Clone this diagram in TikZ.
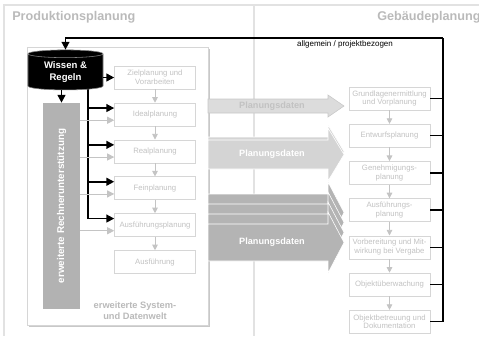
\documentclass[tikz,border=0pt]{standalone}
\usepackage{fontspec}
\setmainfont{Liberation Sans}
\usepackage{tikz}
\usetikzlibrary{arrows.meta,shapes.geometric}
\definecolor{framegray}{HTML}{E2E2E2}
\definecolor{boxgray}{HTML}{D6D6D6}
\definecolor{txtgray}{HTML}{C2C2C2}
\definecolor{titlegray}{HTML}{BABABA}
\definecolor{rechnergray}{HTML}{B2B2B2}
\definecolor{flowgray}{HTML}{C4C4C4}
\definecolor{pdlight}{HTML}{DCDCDC}
\definecolor{pdline}{HTML}{C8C8C8}
\definecolor{pdmid}{HTML}{D4D4D4}
\definecolor{pddark}{HTML}{B4B4B4}

\begin{document}
\begin{tikzpicture}[x=0.025cm, y=-0.025cm,
  phase/.style={draw=boxgray, fill=white, text=txtgray, align=center,
    minimum width=2.025cm, minimum height=0.575cm, inner sep=0.5pt,
    font=\fontsize{5.5}{6.2}\selectfont},
  headline/.style={anchor=west, text=titlegray, inner sep=0pt,
    font=\fontsize{9}{10}\selectfont\bfseries},
  blk/.style={line width=1.1pt, black},
  blkarrow/.style={blk, -{Triangle[length=5.5pt,width=5.5pt]}},
  flow/.style={flowgray, line width=0.6pt, -{Triangle[length=4pt,width=4pt]}},
  pdtext/.style={font=\fontsize{6.5}{7}\selectfont\bfseries, text=white}]
  \useasboundingbox (0,0) rectangle (479,336);

  % frame
  \draw[framegray, line width=1.2pt] (4,336) -- (4,5) -- (479,5);
  \draw[framegray, line width=1.2pt] (254,5) -- (254,336);
  \node[headline] (prod) at (12,17) {Produktionsplanung};
  \node[headline] (geb) at (377,17) {Gebäudeplanung};

  % system- und datenwelt
  \fill[pdline] (29,49) rectangle (210,327);
  \filldraw[fill=white, draw=boxgray] (27,47) rectangle (208,325);
  \node[text=titlegray, align=center, font=\fontsize{6.6}{7.8}\selectfont\bfseries] (welt) at (135,311) {erweiterte System-\\und Datenwelt};

  % produktionsplanung
  \node[phase] (ziel) at (155,77.5) {Zielplanung und\\Vorarbeiten};
  \node[phase] (ideal) at (155,114.5) {Idealplanung};
  \node[phase] (real) at (155,151.3) {Realplanung};
  \node[phase] (fein) at (155,188.2) {Feinplanung};
  \node[phase] (ausfp) at (155,225) {Ausführungsplanung};
  \node[phase] (ausf) at (155,262) {Ausführung};
  \foreach \a/\b in {ziel/ideal,ideal/real,real/fein,fein/ausfp,ausfp/ausf}
    \draw[flow] (\a) -- (\b);

  % gebaeudeplanung
  \node[phase] (grund) at (389.5,98.5) {Grundlagenermittlung\\und Vorplanung};
  \node[phase] (entw) at (389.5,135.7) {Entwurfsplanung};
  \node[phase] (gen) at (389.5,172.9) {Genehmigungs-\\planung};
  \node[phase] (ausfr) at (389.5,210.1) {Ausführungs-\\planung};
  \node[phase] (vorb) at (389.5,247.3) {Vorbereitung und Mit-\\wirkung bei Vergabe};
  \node[phase] (objue) at (389.5,284.5) {Objektüberwachung};
  \node[phase] (objb) at (389.5,321.7) {Objektbetreuung und\\Dokumentation};
  \foreach \a/\b in {grund/entw,entw/gen,gen/ausfr,ausfr/vorb,vorb/objue,objue/objb}
    \draw[flow] (\a) -- (\b);

  % planungsdaten
  \filldraw[fill=pdlight, draw=pdline] (208,99) -- (328,99) -- (328,95) -- (344,106)
    -- (328,117) -- (328,113) -- (208,113) -- cycle;
  \node[pdtext, text=txtgray] (pd1) at (272,106) {Planungsdaten};
  \foreach \s in {-3,0}
    \filldraw[fill=pdmid, draw=white, shift={(0,\s)}] (208,140) -- (328,140) -- (328,128)
      -- (344,154.5) -- (328,181) -- (328,169) -- (208,169) -- cycle;
  \node[pdtext] (pd2) at (272,154.5) {Planungsdaten};
  \foreach \s in {-30,-20,-10,0}
    \filldraw[fill=pddark, draw=white, shift={(0,\s)}] (208,224) -- (328,224) -- (328,212)
      -- (344,242.5) -- (328,273) -- (328,261) -- (208,261) -- cycle;
  \node[pdtext] (pd3) at (272,242.5) {Planungsdaten};

  % wissen und rechnerunterstuetzung
  \coordinate (spine) at (88,88);
  \coordinate (bustop) at (443,38);
  \draw[blk] (spine) -- (spine |- ausfp.171);
  \foreach \n in {ideal,real,fein,ausfp}
    \draw[blkarrow] (spine |- \n.171) -- (\n.171);
  \node[cylinder, shape border rotate=90, aspect=0.18, minimum width=1.875cm,
    minimum height=1cm, fill=black, draw=gray, text=white, align=center, inner sep=0pt,
    font=\fontsize{6.8}{8.5}\selectfont\bfseries] (db) at (65.5,72) {Wissen \&\\Regeln};
  \draw[blkarrow] (db.east |- ziel.west) -- (ziel.west);
  \node[rotate=90, fill=rechnergray, text=white, minimum width=5.15cm, minimum height=0.925cm,
    font=\fontsize{7}{8}\selectfont\bfseries] (rechner) at (61.5,206) {erweiterte Rechnerunterstützung};
  \draw[blkarrow] (rechner.east |- db.south) -- (rechner.east);
  \foreach \n in {ideal,real,fein,ausfp}
    \draw[flow, -{Triangle[length=5pt,width=5pt]}] (rechner.south |- \n.188) -- (\n.188);

  % rueckkopplung
  \draw[blkarrow] (bustop) -| (db.north);
  \draw[blk] (bustop) -- (bustop |- objb.east);
  \foreach \n in {grund,entw,gen,ausfr,vorb,objue,objb}
    \draw[blk] (\n.east) -- (\n.east -| bustop);
  \node[font=\fontsize{5.7}{6}\selectfont] (allg) at (345,44) {allgemein / projektbezogen};
\end{tikzpicture}
\end{document}
